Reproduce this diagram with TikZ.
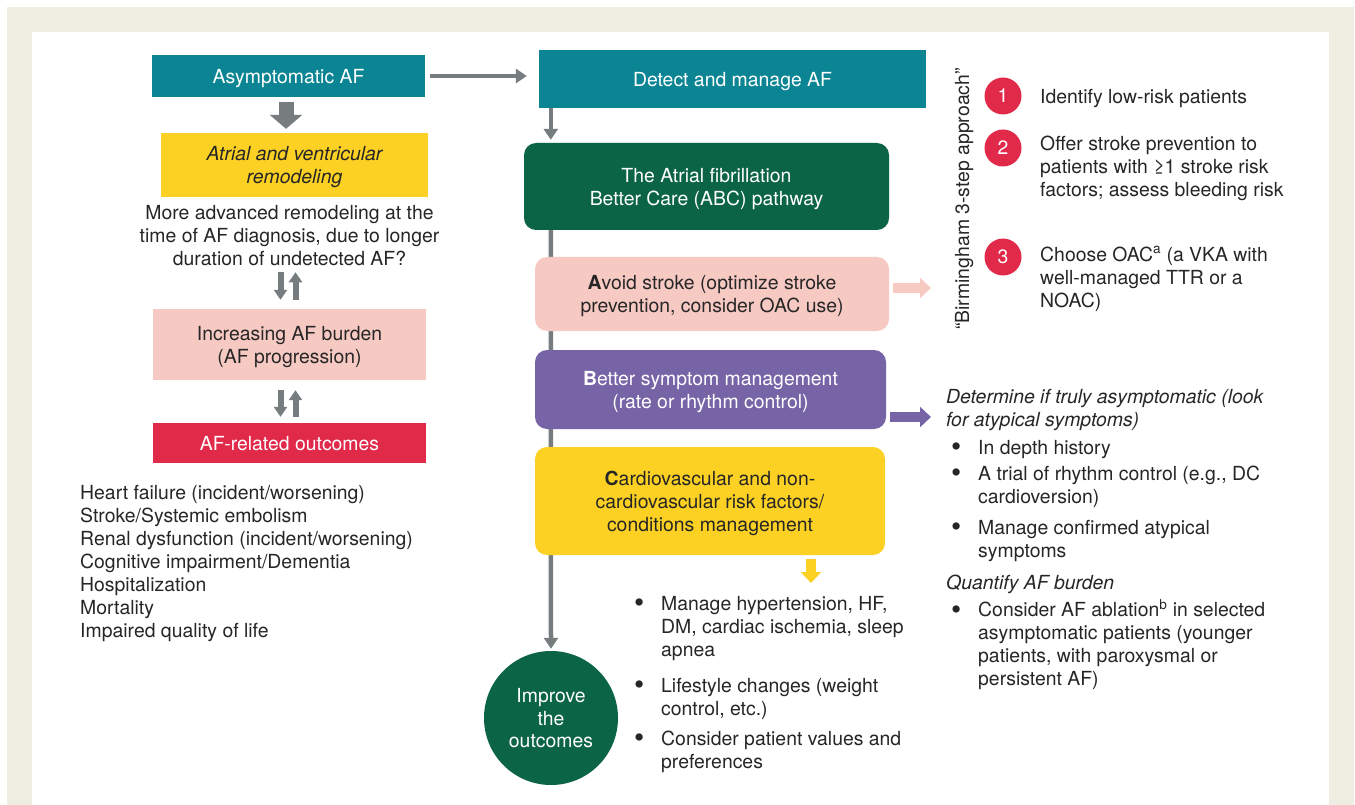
\documentclass[tikz,border=0pt]{standalone}
\usepackage{fontspec}
\setmainfont{TeX Gyre Heros}
\usetikzlibrary{arrows.meta,backgrounds}

\definecolor{afteal}{HTML}{0B8594}
\definecolor{afgreen}{HTML}{0C6447}
\definecolor{afpink}{HTML}{F7C9C3}
\definecolor{afpurple}{HTML}{7764A7}
\definecolor{afyellow}{HTML}{FCD123}
\definecolor{afred}{HTML}{E1294A}
\definecolor{afgray}{HTML}{777C7F}
\definecolor{afbeige}{HTML}{EFEEE2}
\definecolor{aftext}{HTML}{262626}

\tikzset{
  every node/.style={text depth=0pt},
  sqbox/.style={rectangle, inner sep=0pt, align=center},
  rbox/.style={sqbox, rounded corners=12pt},
  plain/.style={inner sep=0pt, align=left, anchor=west, text=aftext},
  stepnum/.style={circle, fill=afred, text=white, minimum size=37pt, inner sep=0pt},
  garrow/.style={draw=afgray, line width=4.5pt, -{Triangle[length=11pt,width=14pt]}},
  blockarrow/.style={draw=afgray, line width=15pt, -{Triangle[length=14pt,width=32pt]}},
  twinarrow/.style={draw=afgray, line width=6pt, -{Triangle[length=10pt,width=13pt]}},
  sidearrow/.style={line width=10pt, -{Triangle[length=11pt,width=20pt]}},
}
\newcommand{\bul}{\llap{\raisebox{-2.5pt}{\scalebox{1.5}{\textbullet}}\hspace{17pt}}}

\begin{document}
\begin{tikzpicture}[x=1pt,y=-1pt,font=\fontsize{19.4}{23}\selectfont]
\useasboundingbox (0,0) rectangle (1355,805);
\begin{scope}[on background layer]
  \fill[afbeige] (7,7) rectangle (1354,805);
  \fill[white] (32,32) rectangle (1329,805);
\end{scope}

% left column
\node[sqbox, fill=afteal, text=white, minimum width=273pt, minimum height=42pt] (asym) at (288.5,76) {Asymptomatic AF};
\node[sqbox, fill=afyellow, text=aftext, minimum width=267pt, minimum height=64pt, font=\fontsize{19.4}{23}\selectfont\itshape] (remod) at (294.5,165) {Atrial and ventricular\\remodeling};
\node[sqbox, text=aftext] (remtext) at (289.5,235) {More advanced remodeling at the\\time of AF diagnosis, due to longer\\duration of undetected AF?};
\node[sqbox, fill=afpink, text=aftext, minimum width=273pt, minimum height=71pt] (burden) at (289.5,344.5) {Increasing AF burden\\(AF progression)};
\node[sqbox, fill=afred, text=white, minimum width=273pt, minimum height=40pt] (outc) at (289.5,443) {AF-related outcomes};
\node[plain] (outlist) at (80,561) {Heart failure (incident/worsening)\\Stroke/Systemic embolism\\Renal dysfunction (incident/worsening)\\Cognitive impairment/Dementia\\Hospitalization\\Mortality\\Impaired quality of life};

\draw[blockarrow] ([xshift=-2.5pt,yshift=-5pt]asym.south) -- ([xshift=-8.5pt,yshift=4pt]remod.north);
\draw[twinarrow] ([xshift=-9pt,yshift=-7pt]remtext.south) -- ([xshift=-9pt,yshift=9pt]burden.north);
\draw[twinarrow] ([xshift=6pt,yshift=9pt]burden.north) -- ([xshift=6pt,yshift=-7pt]remtext.south);
\draw[twinarrow] ([xshift=-9pt,yshift=-10pt]burden.south) -- ([xshift=-9pt,yshift=6pt]outc.north);
\draw[twinarrow] ([xshift=6pt,yshift=6pt]outc.north) -- ([xshift=6pt,yshift=-10pt]burden.south);

% ABC pathway
\node[sqbox, fill=afteal, text=white, minimum width=387pt, minimum height=58pt] (detect) at (732.5,79) {Detect and manage AF};
\node[rbox, fill=afgreen, text=white, minimum width=365pt, minimum height=87pt] (abc) at (706.5,186.5) {The Atrial fibrillation\\Better Care (ABC) pathway};
\node[rbox, fill=afpink, text=aftext, minimum width=354pt, minimum height=74pt] (avoid) at (712,294) {\textbf{A}void stroke (optimize stroke\\prevention, consider OAC use)};
\node[rbox, fill=afpurple, text=white, minimum width=351pt, minimum height=79pt] (better) at (710.5,389.5) {\textbf{B}etter symptom management\\(rate or rhythm control)};
\node[rbox, fill=afyellow, text=aftext, minimum width=350pt, minimum height=108pt] (cbox) at (710,501) {\textbf{C}ardiovascular and non-\\cardiovascular risk factors/\\conditions management};
\node[circle, fill=afgreen, text=white, minimum size=134pt, inner sep=0pt, align=center, font=\fontsize{19.4}{22.5}\selectfont] (improve) at (551,718) {Improve\\the\\outcomes};

\draw[garrow] ([xshift=5pt]asym.east) -- ([xshift=-12pt]asym.east -| detect.west);
\draw[garrow] ([xshift=27pt]abc.north west |- detect.south) -- ([xshift=27pt,yshift=3pt]abc.north west);
\begin{scope}[on background layer]
  \draw[garrow] ([xshift=27pt,yshift=6pt]abc.south west) -- ([yshift=2pt]improve.north);
\end{scope}

\node[plain] (cl1) at (661,626) {\bul Manage hypertension, HF,\\DM, cardiac ischemia, sleep\\apnea};
\node[plain] (cl2) at (661,696.5) {\bul Lifestyle changes (weight\\control, etc.)};
\node[plain] (cl3) at (661,749.5) {\bul Consider patient values and\\preferences};

% Birmingham 3-step approach
\node[inner sep=0pt, text=aftext, rotate=90] (birm) at (962,199) {``Birmingham 3-step approach''};
\node[stepnum] (n1) at (1003,96) {1};
\node[stepnum] (n2) at (1003,148) {2};
\node[stepnum] (n3) at (1003,257) {3};
\node[plain] (s1) at (1040,96) {Identify low-risk patients};
\node[plain] (s2) at (1040,166) {Offer stroke prevention to\\patients with ≥1 stroke risk\\factors; assess bleeding risk};
\node[plain] (s3) at (1040,277) {Choose OAC\textsuperscript{a} (a VKA with\\well-managed TTR or a\\NOAC)};

% symptom assessment
\node[plain, font=\fontsize{19.4}{23}\selectfont\itshape] (det) at (946,407.5) {Determine if truly asymptomatic (look\\for atypical symptoms)};
\node[plain] (b1) at (978,447) {\bul In depth history};
\node[plain] (b2) at (978,484.5) {\bul A trial of rhythm control (e.g., DC\\cardioversion)};
\node[plain] (b3) at (978,538.5) {\bul Manage confirmed atypical\\symptoms};
\node[plain, font=\fontsize{19.4}{23}\selectfont\itshape] (quant) at (946,582) {Quantify AF burden};
\node[plain] (b4) at (978,642.5) {\bul Consider AF ablation\textsuperscript{b} in selected\\asymptomatic patients (younger\\patients, with paroxysmal or\\persistent AF)};

\coordinate (pinktip) at (931,288);
\coordinate (purptip) at (931,417);
\coordinate (yeltip) at (811,583);
\draw[sidearrow, draw=afpink] ([xshift=4pt,yshift=6pt]avoid.east) -- (pinktip);
\draw[sidearrow, draw=afpurple] ([xshift=4pt,yshift=-27.5pt]better.east) -- (purptip);
\draw[sidearrow, draw=afyellow] ([xshift=101pt,yshift=-4pt]cbox.south) -- (yeltip);
\end{tikzpicture}
\end{document}
